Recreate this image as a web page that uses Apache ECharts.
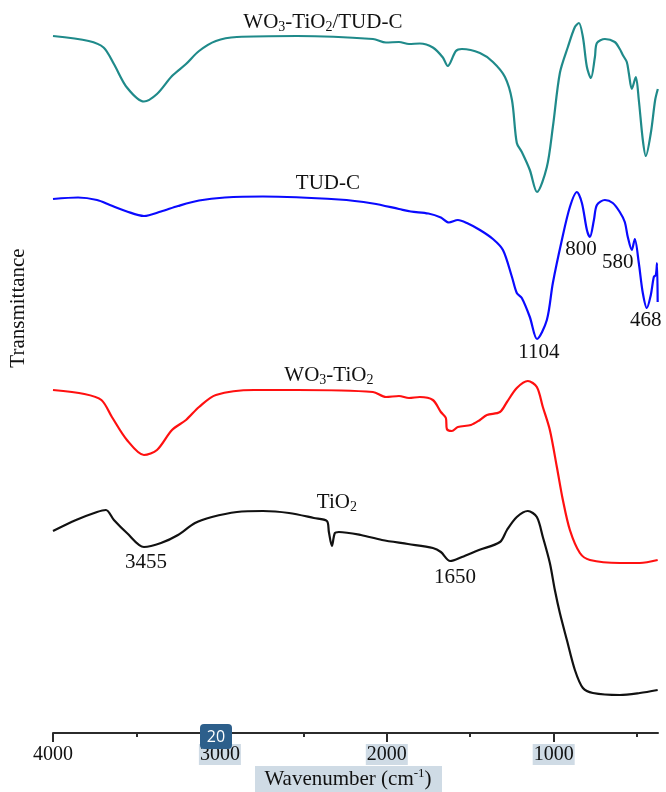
<!DOCTYPE html>
<html>
<head>
<meta charset="utf-8">
<script src="https://cdn.jsdelivr.net/npm/echarts@6/dist/echarts.min.js"></script>
<style>
  html, body { margin: 0; padding: 0; background: #fff; }
  #chart { width: 666px; height: 792px; }
</style>
</head>
<body>
<div id="chart"></div>
<script>
// ---- Data (wavenumber in cm^-1, transmittance in arbitrary offset units) ----
const tealWn = [4000,3786,3697,3635,3557,3455,3377,3287,3203,3125,3024,2898,2538,2083,2005,1927,1867,1802,1724,1664,1635,1586,1550,1442,1364,1292,1250,1221,1191,1143,1100,1041,1005,963,915,873,849,825,801,777,753,741,693,634,604,586,562,550,532,508,490,466,448,418,392,376];
const tealT  = [697,692,685.5,669,645.5,631.5,639,657,669,682,692,696,697,694,690.5,691,689,689.5,685.5,675.5,667,682,684,680,671,656,633,590,581,563,541,566,606,660,686,706,710,696,666,655,676,690,694,691,684,678,671,660,644,656,633,593,577,600,633,644];

const blueWn = [4000,3850,3736,3659,3557,3455,3353,3251,3125,2970,2742,2287,2083,1927,1856,1751,1676,1628,1574,1520,1442,1364,1304,1250,1221,1191,1143,1100,1041,1005,951,903,861,831,801,783,759,741,693,646,604,574,556,532,514,490,466,442,418,400,388,381,377];
const blueT  = [534,535.5,533,528,521.5,517,521.5,527,532.5,535.5,536.5,533.5,529.5,524,521.5,519.5,515.5,510.5,513,510,503,494,483,456,440,435,416,394,413,450,493,526,541,530,503,496,513,528,533,530,521,511,496,483,494,470,440,425,438,456,458,470,431];

const redWn = [4000,3812,3710,3647,3557,3455,3377,3287,3203,3125,3024,2796,2538,2083,2005,1927,1867,1802,1724,1676,1646,1640,1610,1574,1496,1442,1400,1322,1280,1221,1155,1101,1065,1023,981,945,903,843,783,604,484,377];
const redT  = [343,339,333,316,293,278,283,303,313,326,338,343,343,341,336,337,335,336,333,321,315,304,302,306,308,313,318,321,331,345,352,346,326,303,266,233,203,180,173,170,170,173];

const blackWn = [4000,3862,3736,3683,3635,3557,3455,3353,3251,3149,3048,2898,2742,2586,2437,2359,2347,2329,2311,2287,2155,2029,1873,1724,1676,1620,1550,1448,1322,1280,1221,1155,1101,1065,1023,993,963,921,873,825,765,604,484,377];
const blackT  = [202,213,221,223,213,200,186,190,198,210,216,221,222,220,215,212,201,187,200,201,198,193,189,185,181,172,176,183,191,203,216,222,216,196,170,143,120,93,63,45,40,38,40,43];

// Annotation texts and their anchor positions (data coordinates)
const annText = [
  '{a|WO}{s|3}{a|-TiO}{s|2}{a|/TUD-C}',
  '{a|TUD-C}',
  '{a|WO}{s|3}{a|-TiO}{s|2}',
  '{a|TiO}{s|2}',
  '{a|3455}', '{a|1650}', '{a|1104}', '{a|800}', '{a|580}', '{a|468}'
];
const annWn = [2383, 2353, 2347, 2299, 3443, 1592, 1089, 837, 616, 448];
const annT  = [711, 550, 358, 231, 171, 156, 381, 484, 471, 413];

const majorTicks = [4000, 3000, 2000, 1000];
const minorTicks = [3500, 2500, 1500, 500];
const highlighted = [3000, 2000, 1000];

const X_MIN = 375, X_MAX = 4000;
const serif = '"Liberation Serif", "Times New Roman", serif';
const ink = '#111111';

function pairs(xs, ys) { return xs.map((x, i) => [x, ys[i]]); }

const chart = echarts.init(document.getElementById('chart'), null, { renderer: 'canvas' });

const lineSeries = (name, xs, ys, color, w) => ({
  name, type: 'line', data: pairs(xs, ys), showSymbol: false, symbol: 'none',
  smooth: 0.3, lineStyle: { color, width: w }, silent: true, z: 3
});

const option = {
  animation: false,
  backgroundColor: '#ffffff',
  grid: { left: 53, right: 8, top: 0, bottom: 59 },
  xAxis: [
    {
      type: 'value', inverse: true, min: X_MIN, max: X_MAX, position: 'bottom',
      axisLine: { show: true, lineStyle: { color: '#2b2b2b', width: 2 } },
      axisTick: { show: true, customValues: majorTicks, length: 9, lineStyle: { color: '#2b2b2b', width: 2 } },
      axisLabel: {
        customValues: majorTicks, margin: 11, fontFamily: serif, fontSize: 20, color: ink,
        formatter: v => highlighted.indexOf(v) >= 0 ? '{h|' + v + '}' : '{n|' + v + '}',
        rich: {
          h: { fontFamily: serif, fontSize: 20, color: ink, backgroundColor: '#cfdbe5', padding: [1, 1, 0, 1] },
          n: { fontFamily: serif, fontSize: 20, color: ink, padding: [1, 1, 0, 1] }
        }
      },
      splitLine: { show: false }
    },
    {
      type: 'value', inverse: true, min: X_MIN, max: X_MAX, position: 'bottom', offset: 0,
      axisLine: { show: false },
      axisTick: { show: true, customValues: minorTicks, length: 4, lineStyle: { color: '#2b2b2b', width: 2 } },
      axisLabel: { show: false },
      splitLine: { show: false }
    }
  ],
  yAxis: { type: 'value', min: 0, max: 733, show: false },
  series: [
    lineSeries('WO3-TiO2/TUD-C', tealWn, tealT, '#1f8a8a', 2.2),
    lineSeries('TUD-C', blueWn, blueT, '#0a0aff', 2.2),
    lineSeries('WO3-TiO2', redWn, redT, '#ff1010', 2.2),
    lineSeries('TiO2', blackWn, blackT, '#111111', 2.2),
    {
      type: 'scatter', silent: true, z: 5,
      symbolSize: 1, itemStyle: { color: 'rgba(0,0,0,0)' },
      data: annWn.map((w, i) => ({ value: [w, annT[i]], label: { formatter: annText[i] } })),
      label: {
        show: true, position: 'inside', color: ink, opacity: 1,
        textBorderWidth: 0, textBorderColor: 'transparent',
        fontFamily: serif, fontSize: 21,
        rich: {
          a: { fontFamily: serif, fontSize: 21, color: ink, textBorderWidth: 0 },
          s: { fontFamily: serif, fontSize: 14, color: ink, textBorderWidth: 0, padding: [11, 0, 0, 0] }
        }
      }
    }
  ],
  graphic: [
    {
      type: 'text', x: 18, y: 308, rotation: Math.PI / 2, z: 10,
      style: { text: 'Transmittance', font: '21px "Liberation Serif", serif', fill: ink,
               textAlign: 'center', textVerticalAlign: 'middle' }
    },
    {
      type: 'rect', z: 9, shape: { x: 255, y: 766, width: 187, height: 26 },
      style: { fill: '#cfdbe5' }
    },
    {
      type: 'text', x: 348, y: 779, z: 10,
      style: {
        text: '{t|Wavenumber (cm}{p|-1}{t|)}',
        textAlign: 'center', textVerticalAlign: 'middle',
        rich: {
          t: { fontFamily: serif, fontSize: 21, fill: ink, color: ink },
          p: { fontFamily: serif, fontSize: 13, fill: ink, color: ink, padding: [0, 0, 10, 0] }
        }
      }
    },
    {
      type: 'rect', z: 20, shape: { x: 200, y: 724, width: 32, height: 25, r: 4 },
      style: { fill: '#2d5f8b' }
    },
    {
      type: 'text', x: 216, y: 737, z: 21,
      style: { text: '20', font: '16px "Open Sans", sans-serif', fill: '#ffffff',
               textAlign: 'center', textVerticalAlign: 'middle' }
    }
  ]
};

chart.setOption(option);
</script>
</body>
</html>
